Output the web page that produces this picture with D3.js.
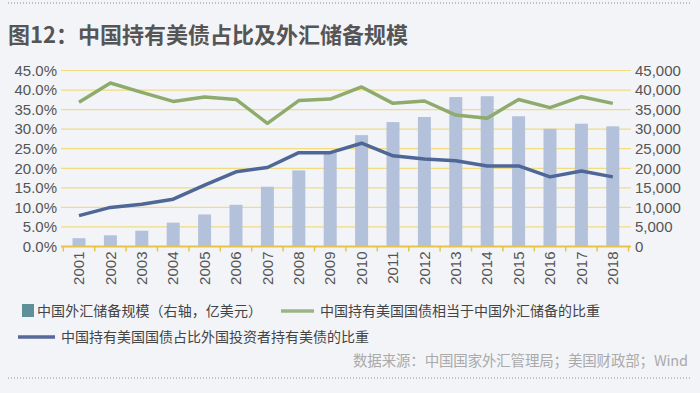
<!DOCTYPE html>
<html>
<head>
<meta charset="utf-8">
<script src="https://d3js.org/d3.v7.min.js"></script>
<style>
	body { margin: 0; background: #f3f4f8; }
	svg { display: block; font-family: "Liberation Sans", Arial, "Noto Sans CJK SC", sans-serif; }
</style>
</head>
<body>
<script>

// years and series
const years = ["2001", "2002", "2003", "2004", "2005", "2006", "2007", "2008", "2009",
	"2010", "2011", "2012", "2013", "2014", "2015", "2016", "2017", "2018"];

// 中国外汇储备规模（亿美元，右轴）
const reserves = [2122, 2864, 4033, 6099, 8189, 10663, 15282, 19460, 23992,
	28473, 31811, 33116, 38213, 38430, 33304, 30105, 31399, 30727];

// 中国持有美国国债相当于中国外汇储备的比重 (%)
const shareOfReserves = [36.9, 41.8, 39.4, 37.1, 38.2, 37.6, 31.5, 37.3, 37.7,
	40.8, 36.6, 37.2, 33.6, 32.8, 37.6, 35.5, 38.3, 36.6];

// 中国持有美国国债占比外国投资者持有美债的比重 (%)
const shareOfForeign = [7.9, 10.0, 10.8, 12.1, 15.7, 19.1, 20.2, 24.0, 24.0,
	26.4, 23.2, 22.4, 21.9, 20.6, 20.6, 17.8, 19.3, 17.8];

const leftTicks = [0, 5, 10, 15, 20, 25, 30, 35, 40, 45];
const rightTicks = [0, 5000, 10000, 15000, 20000, 25000, 30000, 35000, 40000, 45000];

const width = 700, height = 393;
const cjk = "'Noto Sans CJK SC', sans-serif";

var svg = d3.select("body").append("svg")
	.attr("width", width)
	.attr("height", height);

svg.append("rect")
	.attr("width", width).attr("height", height)
	.attr("fill", "#f3f4f8");

// dotted rules top and bottom
[3, 378].forEach(y => {
	svg.append("line")
		.attr("x1", 8).attr("x2", 690)
		.attr("y1", y).attr("y2", y)
		.attr("stroke", "#8a8f99")
		.attr("stroke-width", 1.2)
		.attr("stroke-dasharray", "1 2");
});

svg.append("text")
	.attr("x", 8)
	.attr("y", 43)
	.attr("fill", "#555")
	.style("font-family", cjk)
	.style("font-size", "22px")
	.style("font-weight", "bold")
	.text("图12：中国持有美债占比及外汇储备规模");

var x = d3.scaleBand().domain(years).range([63.3, 628.5]);
var yL = d3.scaleLinear().domain([0, 45]).range([246.5, 70.5]);
var yR = d3.scaleLinear().domain([0, 45000]).range([246.5, 70.5]);

// gridlines
svg.append("g")
	.selectAll("line")
	.data(leftTicks.slice(1))
	.enter()
	.append("line")
	.attr("x1", 61).attr("x2", 631)
	.attr("y1", d => yL(d)).attr("y2", d => yL(d))
	.attr("stroke", "#f2dc82")
	.attr("stroke-width", 1.2);

// bars
svg.append("g")
	.selectAll("rect")
	.data(reserves)
	.enter()
	.append("rect")
	.attr("x", (d, i) => x(years[i]) + x.bandwidth() / 2 - 6.5)
	.attr("width", 13)
	.attr("y", d => yR(d))
	.attr("height", d => yR(0) - yR(d))
	.attr("fill", "#b3c1da");

// x axis
var xAxis = d3.axisBottom(x).tickSize(0).tickPadding(5);
var gx = svg.append("g")
	.attr("transform", "translate(0," + yL(0) + ")")
	.call(xAxis);
gx.select(".domain").attr("stroke", "#e6c44a").attr("stroke-width", 2).attr("d", "M61,0H631");
gx.selectAll("text")
	.attr("transform", "rotate(-90)")
	.attr("x", -5).attr("y", 0).attr("dy", "0.35em")
	.attr("text-anchor", "end")
	.attr("fill", "#555")
	.style("font-size", "15px");
// small tick marks between bands
gx.selectAll(".sep")
	.data(d3.range(years.length + 1))
	.enter()
	.append("line")
	.attr("x1", i => x.range()[0] + i * x.step())
	.attr("x2", i => x.range()[0] + i * x.step())
	.attr("y1", 0).attr("y2", 5)
	.attr("stroke", "#e6c44a").attr("stroke-width", 1.5);

// left axis
var gl = svg.append("g")
	.attr("transform", "translate(60,0)")
	.call(d3.axisLeft(yL).tickValues(leftTicks).tickSize(0).tickPadding(3)
		.tickFormat(d => d.toFixed(1) + "%"));
gl.select(".domain").remove();
gl.selectAll("text").attr("fill", "#555").style("font-size", "15px");

// right axis
var gr = svg.append("g")
	.attr("transform", "translate(632,0)")
	.call(d3.axisRight(yR).tickValues(rightTicks).tickSize(0).tickPadding(3)
		.tickFormat(d3.format(",")));
gr.select(".domain").remove();
gr.selectAll("text").attr("fill", "#555").style("font-size", "15px");

// lines
var line = d3.line()
	.x((d, i) => x(years[i]) + x.bandwidth() / 2)
	.y(d => yL(d));

svg.append("path")
	.datum(shareOfReserves)
	.attr("d", line)
	.attr("fill", "none")
	.attr("stroke", "#8eab6c")
	.attr("stroke-width", 3.5)
	.attr("stroke-linejoin", "round");

svg.append("path")
	.datum(shareOfForeign)
	.attr("d", line)
	.attr("fill", "none")
	.attr("stroke", "#4e6796")
	.attr("stroke-width", 3.5)
	.attr("stroke-linejoin", "round");

// legend
var lg = svg.append("g").style("font-family", cjk).style("font-size", "14px").attr("fill", "#444");

lg.append("rect").attr("x", 22).attr("y", 304).attr("width", 12).attr("height", 13).attr("fill", "#5f8f99");
lg.append("text").attr("x", 37).attr("y", 316).attr("textLength", 225).text("中国外汇储备规模（右轴，亿美元）");

lg.append("line").attr("x1", 281).attr("x2", 314).attr("y1", 311).attr("y2", 311)
	.attr("stroke", "#9cb483").attr("stroke-width", 3.5);
lg.append("text").attr("x", 320).attr("y", 316).text("中国持有美国国债相当于中国外汇储备的比重");

lg.append("line").attr("x1", 18).attr("x2", 55).attr("y1", 337).attr("y2", 337)
	.attr("stroke", "#56699a").attr("stroke-width", 3.5);
lg.append("text").attr("x", 61).attr("y", 342).text("中国持有美国国债占比外国投资者持有美债的比重");

svg.append("text")
	.attr("x", 688)
	.attr("y", 366)
	.attr("text-anchor", "end")
	.attr("fill", "#aaa")
	.style("font-family", cjk)
	.style("font-size", "14.5px")
	.attr("textLength", 335)
	.text("数据来源：中国国家外汇管理局；美国财政部；Wind");

</script>
</body>
</html>
